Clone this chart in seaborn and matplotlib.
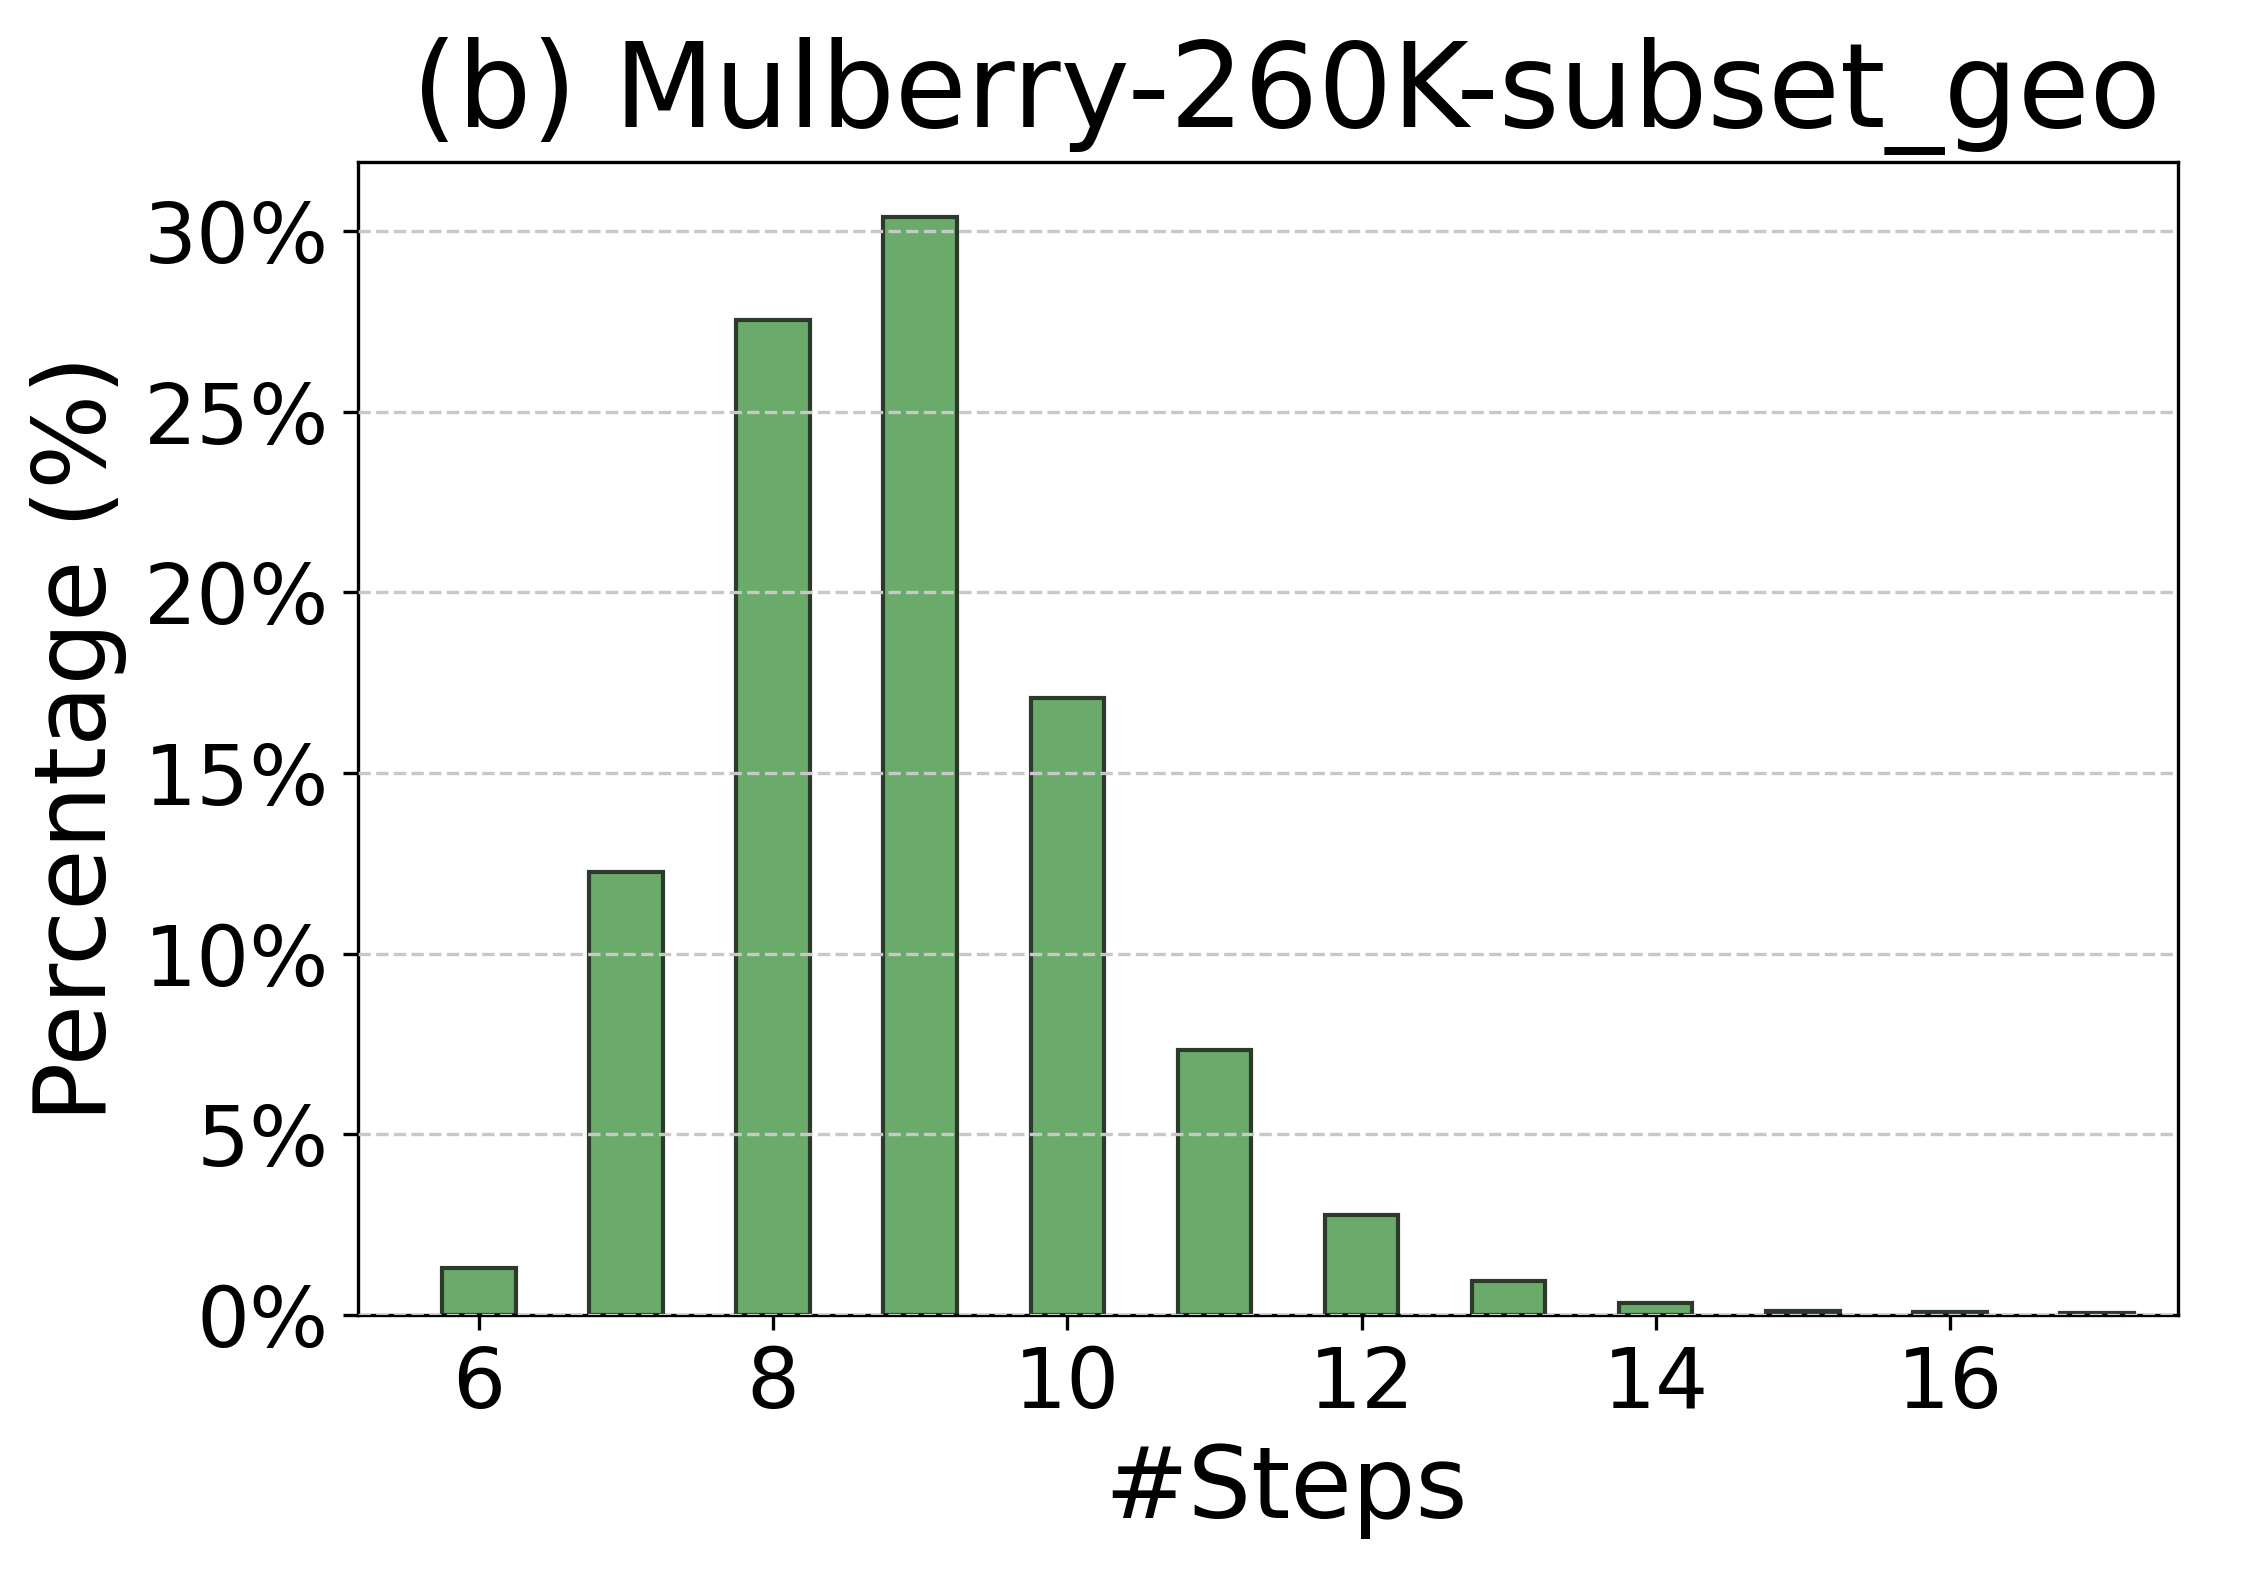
import matplotlib.pyplot as plt
import matplotlib.ticker as mticker
import seaborn as sns

steps = [6, 7, 8, 9, 10, 11, 12, 13, 14, 15, 16, 17]
percent = [1.28, 12.25, 27.55, 30.4, 17.08, 7.33, 2.75, 0.93, 0.33, 0.11, 0.07, 0.05]

fig = plt.figure(figsize=(2248 / 300, 1570 / 300), dpi=300)
ax = fig.add_axes([0.1594, 0.1626, 0.9688 - 0.1594, 0.8968 - 0.1626])

sns.barplot(x=steps, y=percent, native_scale=True, width=0.5,
            color='#6aaa6a', saturation=1, edgecolor='#2b3a2b', linewidth=1.0, ax=ax)

ax.set_xlim(5.18, 17.55)
ax.set_ylim(0, max(percent) * 1.05)
ax.set_xticks([6, 8, 10, 12, 14, 16])
ax.yaxis.set_major_locator(mticker.MultipleLocator(5))
ax.yaxis.set_major_formatter(mticker.FuncFormatter(lambda v, p: f'{v:.0f}%'))
ax.grid(axis='y', linestyle='--', color='#c8c8c8', linewidth=0.8)
ax.set_axisbelow(False)

ax.set_title('(b) Mulberry-260K-subset_geo', fontsize=28, x=0.51, pad=8.5)
ax.set_xlabel('#Steps', fontsize=24)
ax.xaxis.set_label_coords(0.51, -0.11)
ax.set_ylabel('Percentage (%)', fontsize=24)
ax.tick_params(labelsize=20)

fig.savefig('out.png', dpi=300)
